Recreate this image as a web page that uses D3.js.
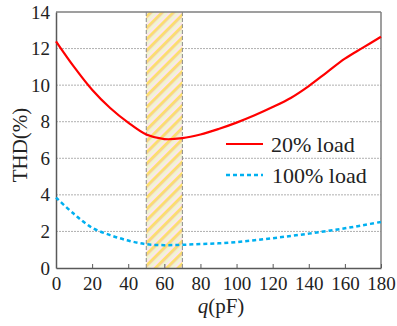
<!DOCTYPE html>
<html lang="en">
	<head>
		<meta charset="utf-8">
		<title>THD vs q</title>
		<script type="text/javascript" src="https://d3js.org/d3.v7.min.js"></script>
		<style type="text/css">
			body { margin: 0; background: #fff; }
			text { font-family: "Liberation Serif", "Times New Roman", serif; fill: #222; }
		</style>
	</head>
	<body>
		<script type="text/javascript">

			// Data
			var qValues = [0, 10, 20, 30, 40, 50, 60, 70, 80, 90, 100, 110, 120, 130, 140, 150, 160, 170, 180];
			var load20 = [12.4, 11.0, 9.75, 8.75, 7.95, 7.3, 7.05, 7.1, 7.3, 7.6, 7.95, 8.35, 8.8, 9.3, 9.95, 10.7, 11.45, 12.05, 12.65];
			var load100 = [3.85, 2.95, 2.2, 1.8, 1.5, 1.3, 1.25, 1.27, 1.31, 1.35, 1.42, 1.52, 1.63, 1.75, 1.88, 2.02, 2.17, 2.34, 2.52];
			var xTicks = [0, 20, 40, 60, 80, 100, 120, 140, 160, 180];
			var yTicks = [0, 2, 4, 6, 8, 10, 12, 14];
			var band = [50, 70];
			var seriesNames = ["20% load", "100% load"];

			var w = 397;
			var h = 326;
			var pLeft = 56, pRight = 381, pTop = 12, pBottom = 268;

			var xScale = d3.scaleLinear().domain([0, 180]).range([pLeft, pRight]);
			var yScale = d3.scaleLinear().domain([0, 14]).range([pBottom, pTop]);

			var svg = d3.select("body")
						.append("svg")
						.attr("width", w)
						.attr("height", h);

			// hatch pattern for the band
			var defs = svg.append("defs");
			var pat = defs.append("pattern")
				.attr("id", "hatch")
				.attr("patternUnits", "userSpaceOnUse")
				.attr("width", 8)
				.attr("height", 8)
				.attr("patternTransform", "rotate(45)");
			pat.append("rect").attr("width", 8).attr("height", 8).attr("fill", "#fbf6ee");
			pat.append("rect").attr("x", 0).attr("width", 2).attr("height", 8).attr("fill", "#fce4ee");
			pat.append("rect").attr("x", 2).attr("width", 2).attr("height", 8).attr("fill", "#fbe06a");
			pat.append("rect").attr("x", 4).attr("width", 1.5).attr("height", 8).attr("fill", "#f8cf98");
			pat.append("rect").attr("x", 5.5).attr("width", 2.5).attr("height", 8).attr("fill", "#eef6d2");

			// gridlines
			svg.selectAll("line.grid")
			   .data(yTicks.filter(function(d) { return d > 0 && d < 14; }))
			   .enter()
			   .append("line")
			   .attr("class", "grid")
			   .attr("x1", pLeft)
			   .attr("x2", pRight)
			   .attr("y1", function(d) { return yScale(d); })
			   .attr("y2", function(d) { return yScale(d); })
			   .attr("stroke", "#b0b0b0")
			   .attr("stroke-width", 1)
			   .attr("stroke-dasharray", "2,1");

			// band
			svg.append("rect")
			   .attr("x", xScale(band[0]))
			   .attr("y", pTop)
			   .attr("width", xScale(band[1]) - xScale(band[0]))
			   .attr("height", pBottom - pTop)
			   .attr("fill", "url(#hatch)");

			svg.selectAll("line.bandEdge")
			   .data(band)
			   .enter()
			   .append("line")
			   .attr("class", "bandEdge")
			   .attr("x1", function(d) { return xScale(d); })
			   .attr("x2", function(d) { return xScale(d); })
			   .attr("y1", pTop)
			   .attr("y2", pBottom)
			   .attr("stroke", "#8a8a8a")
			   .attr("stroke-width", 1)
			   .attr("stroke-dasharray", "4,2");

			// frame: top and right lighter
			svg.append("line").attr("x1", pLeft).attr("x2", pRight).attr("y1", pTop).attr("y2", pTop)
			   .attr("stroke", "#7f7f7f").attr("stroke-width", 1.5);
			svg.append("line").attr("x1", pRight).attr("x2", pRight).attr("y1", pTop).attr("y2", pBottom)
			   .attr("stroke", "#7f7f7f").attr("stroke-width", 1.5);

			// axes
			var xAxis = d3.axisBottom(xScale).tickValues(xTicks).tickSizeInner(-4).tickSizeOuter(0).tickPadding(9);
			var yAxis = d3.axisLeft(yScale).tickValues(yTicks).tickSize(0).tickPadding(6);

			var gx = svg.append("g")
			   .attr("transform", "translate(0," + pBottom + ")")
			   .call(xAxis);
			var gy = svg.append("g")
			   .attr("transform", "translate(" + pLeft + ",0)")
			   .call(yAxis);

			[gx, gy].forEach(function(g) {
				g.select(".domain").attr("stroke", "#595959").attr("stroke-width", 1.5);
				g.selectAll(".tick line").attr("stroke", "#595959");
				g.selectAll(".tick text")
				 .attr("font-family", "Liberation Serif, serif")
				 .attr("font-size", "19px")
				 .attr("fill", "#222");
			});

			// lines
			var line = d3.line()
				.x(function(d) { return xScale(d[0]); })
				.y(function(d) { return yScale(d[1]); })
				.curve(d3.curveCatmullRom);

			svg.append("path")
			   .datum(d3.zip(qValues, load20))
			   .attr("d", line)
			   .attr("fill", "none")
			   .attr("stroke", "#ff0000")
			   .attr("stroke-width", 2.2);

			svg.append("path")
			   .datum(d3.zip(qValues, load100))
			   .attr("d", line)
			   .attr("fill", "none")
			   .attr("stroke", "#00b0f0")
			   .attr("stroke-width", 2.5)
			   .attr("stroke-dasharray", "4,3");

			// legend
			var legend = svg.append("g");
			legend.append("line").attr("x1", 226).attr("x2", 263).attr("y1", 144).attr("y2", 144)
			   .attr("stroke", "#ff0000").attr("stroke-width", 2.2);
			legend.append("text").attr("x", 271).attr("y", 152).attr("font-size", "22px").text(seriesNames[0]);
			legend.append("line").attr("x1", 226).attr("x2", 263).attr("y1", 175).attr("y2", 175)
			   .attr("stroke", "#00b0f0").attr("stroke-width", 2.5).attr("stroke-dasharray", "4,3");
			legend.append("text").attr("x", 272).attr("y", 183).attr("font-size", "22px").text(seriesNames[1]);

			// axis titles
			var xt = svg.append("text")
			   .attr("x", 221)
			   .attr("y", 313)
			   .attr("text-anchor", "middle")
			   .attr("font-size", "21px");
			xt.append("tspan").attr("font-style", "italic").text("q");
			xt.append("tspan").text("(pF)");

			svg.append("text")
			   .attr("transform", "translate(27,145) rotate(-90)")
			   .attr("text-anchor", "middle")
			   .attr("font-size", "21px")
			   .text("THD(%)");

		</script>
	</body>
</html>
